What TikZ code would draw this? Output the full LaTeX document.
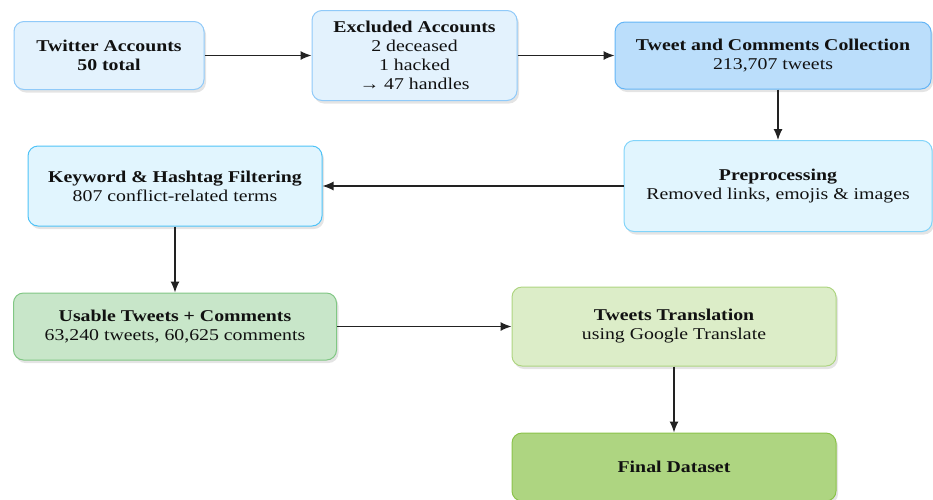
\documentclass[tikz,border=0pt]{standalone}
\usepackage{fontspec}
\setmainfont[FakeStretch=1.2]{Liberation Serif}
\usepackage{tikz}
\usetikzlibrary{arrows.meta, positioning, shadows}
\definecolor{acctfill}{HTML}{E3F2FD}
\definecolor{acctedge}{HTML}{90CAF9}
\definecolor{collfill}{HTML}{BBDEFB}
\definecolor{colledge}{HTML}{64B5F6}
\definecolor{prepfill}{HTML}{E1F5FE}
\definecolor{prepedge}{HTML}{81D4FA}
\definecolor{filtedge}{HTML}{4FC3F7}
\definecolor{usefill}{HTML}{C8E6C9}
\definecolor{useedge}{HTML}{81C784}
\definecolor{transfill}{HTML}{DCEDC8}
\definecolor{transedge}{HTML}{AED581}
\definecolor{finalfill}{HTML}{AED581}
\definecolor{finaledge}{HTML}{8BC34A}
\definecolor{arrowgray}{HTML}{222222}
\definecolor{textdark}{HTML}{111111}
\tikzset{
  arr/.style={-{Latex[length=11pt,width=9pt]}, line width=1.2pt, arrowgray},
  flowbox/.style={rectangle, rounded corners=10pt, line width=1pt, align=center, text=textdark, font=\fontsize{16.5}{19}\selectfont, drop shadow={shadow xshift=2pt, shadow yshift=-3pt, opacity=0.3, fill=gray!70}},
  acctbox/.style={flowbox, draw=acctedge, fill=acctfill},
  collbox/.style={flowbox, draw=colledge, fill=collfill},
  prepbox/.style={flowbox, draw=prepedge, fill=prepfill},
  filtbox/.style={flowbox, draw=filtedge, fill=prepfill},
  usebox/.style={flowbox, draw=useedge, fill=usefill},
  transbox/.style={flowbox, draw=transedge, fill=transfill},
  finalbox/.style={flowbox, draw=finaledge, fill=finalfill},
}
\begin{document}
\begin{tikzpicture}[x=1pt, y=-1pt]
  \useasboundingbox (0,0) rectangle (933,499);

  % Top row
  \node[acctbox, minimum width=190pt, minimum height=68pt] (twitter) at (109,55.5) {\textbf{Twitter Accounts}\\\textbf{50 total}};
  \node[acctbox, minimum width=205pt, minimum height=90pt] (excluded) at (414.5,55.5) {\textbf{Excluded Accounts}\\2 deceased\\1 hacked\\→ 47 handles};
  \node[collbox, minimum width=316pt, minimum height=67pt] (collect) at (773,55.5) {\textbf{Tweet and Comments Collection}\\213,707 tweets};

  % Middle row
  \node[prepbox, minimum width=308pt, minimum height=91pt] (prep) at (778,186) {\textbf{Preprocessing}\\Removed links, emojis \& images};
  \node[filtbox, minimum width=294pt, minimum height=80pt] (filter) at (175,186) {\textbf{Keyword \& Hashtag Filtering}\\807 conflict-related terms};

  % Lower rows
  \node[usebox, minimum width=323pt, minimum height=67pt] (usable) at (175,326.5) {\textbf{Usable Tweets + Comments}\\63,240 tweets, 60,625 comments};
  \node[transbox, minimum width=324pt, minimum height=79pt] (translate) at (674,326.5) {\textbf{Tweets Translation}\\using Google Translate};
  \node[finalbox, minimum width=324pt, minimum height=68pt] (final) at (674,467) {\textbf{Final Dataset}};

  \draw[arr] (twitter) -- (excluded);
  \draw[arr] (excluded) -- (collect);
  \draw[arr] (collect.south -| prep) -- (prep.north);
  \draw[arr] (prep) -- (filter);
  \draw[arr] (filter) -- (usable);
  \draw[arr] (usable) -- (translate);
  \draw[arr] (translate) -- (final);
\end{tikzpicture}
\end{document}
